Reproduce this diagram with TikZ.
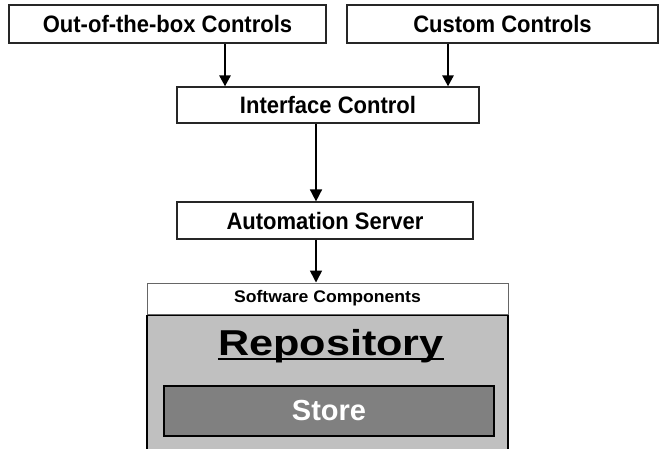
\documentclass[tikz,border=0pt]{standalone}
\usepackage{fontspec}
\setmainfont{Liberation Sans}
\usetikzlibrary{arrows.meta}
\definecolor{panelgray}{HTML}{C0C0C0}
\definecolor{storegray}{HTML}{808080}
\begin{document}
\begin{tikzpicture}[x=1pt,y=-1pt,
  box/.style={draw=black!85, line width=1.2pt, fill=white, inner sep=0pt,
    font=\fontsize{22}{26}\selectfont\bfseries},
  thickarr/.style={line width=2.6pt, -{Triangle[width=11pt,length=11pt]}},
  thinarr/.style={line width=1.6pt, -{Triangle[width=12pt,length=12pt]}}]
\useasboundingbox (0,0) rectangle (660,448);
% top boxes
\node[box, minimum width=317pt, minimum height=38pt] (b1) at (167.5,24) {\scalebox{1}[1.08]{Out-of-the-box Controls}};
\node[box, minimum width=311pt, minimum height=38pt] (b2) at (502.5,24) {\scalebox{1}[1.08]{Custom Controls}};
\node[box, minimum width=302pt, minimum height=36pt] (ic) at (328,105) {\scalebox{1}[1.08]{Interface Control}};
\node[box, minimum width=296pt, minimum height=37pt] (as) at (325,220.5) {\scalebox{1}[1.08]{Automation Server}};
% software components
\node[draw=black!60, line width=1pt, fill=white, inner sep=0pt, minimum width=361pt, minimum height=31pt,
  font=\fontsize{16}{19}\selectfont\bfseries] (sc) at (327.5,298.5) {\scalebox{1.1}[1.05]{Software Components}};
\node[draw=black, line width=1.2pt, fill=panelgray, inner sep=0pt, minimum width=361pt, minimum height=160pt,
  anchor=north] (body) at (sc.south) {};
\node[inner sep=0pt, anchor=base, font=\fontsize{36}{40}\selectfont\bfseries] (rep) at (331,355.5)
  {\scalebox{1.2}[1]{Repository}};
\draw[line width=2.2pt] ([yshift=-3.8pt]rep.base west) -- ([yshift=-3.8pt]rep.base east);
\node[draw=black, line width=1.2pt, fill=storegray, inner sep=0pt, minimum width=330pt, minimum height=50pt,
  text=white, font=\fontsize{29}{34}\selectfont\bfseries] (st) at (329,411) {Store};
% arrows
\coordinate (xa) at (225,0);
\coordinate (xb) at (448,0);
\coordinate (xc) at (316,0);
\draw[thickarr] (b1.south -| xa) -- (ic.north -| xa);
\draw[thickarr] (b2.south -| xb) -- (ic.north -| xb);
\draw[thinarr] (ic.south -| xc) -- (as.north -| xc);
\draw[thinarr] (as.south -| xc) -- (sc.north -| xc);
\end{tikzpicture}
\end{document}
